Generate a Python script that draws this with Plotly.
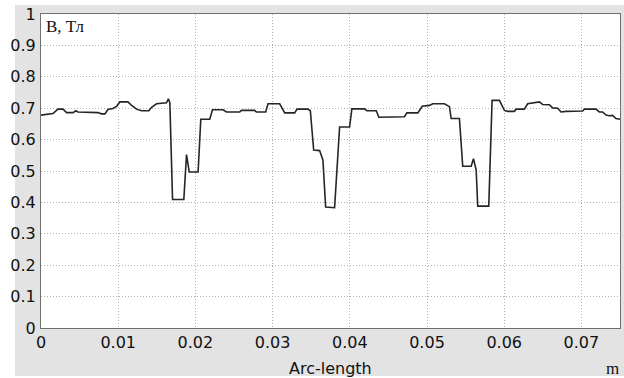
import plotly.graph_objects as go

# Arc-length (m) and flux density B (T)
arc_length = [0.0, 0.00074, 0.00155, 0.0022, 0.00285, 0.00332, 0.00414, 0.00453, 0.00479,
              0.00737, 0.00785, 0.00828, 0.00867, 0.00931, 0.00979, 0.01022, 0.01125, 0.01173,
              0.01238, 0.01303, 0.01397, 0.01432, 0.01497, 0.01626, 0.0165, 0.01669, 0.01704,
              0.0185, 0.01885, 0.0192, 0.02035, 0.0207, 0.02186, 0.02221, 0.02358, 0.02402,
              0.02574, 0.02596, 0.02768, 0.0279, 0.02911, 0.0294, 0.03092, 0.03157, 0.03286,
              0.03316, 0.03458, 0.03489, 0.03532, 0.03609, 0.03652, 0.03687, 0.03803, 0.03868,
              0.03997, 0.04027, 0.04191, 0.04221, 0.04343, 0.04376, 0.04709, 0.04739, 0.04881,
              0.04938, 0.05032, 0.05075, 0.05226, 0.05291, 0.05313, 0.0542, 0.05463, 0.05572,
              0.05602, 0.05637, 0.05657, 0.058, 0.05843, 0.05938, 0.06003, 0.06045, 0.06132,
              0.06154, 0.06261, 0.06304, 0.06455, 0.06498, 0.06585, 0.06628, 0.06693, 0.06736,
              0.06801, 0.07016, 0.07038, 0.07189, 0.07232, 0.07275, 0.07318, 0.07361, 0.07404,
              0.07448, 0.075]
b_values = [0.678, 0.681, 0.683, 0.697, 0.697, 0.686, 0.686, 0.692, 0.688,
            0.686, 0.682, 0.682, 0.696, 0.699, 0.706, 0.720, 0.720, 0.709,
            0.697, 0.692, 0.692, 0.703, 0.714, 0.717, 0.730, 0.717, 0.409,
            0.409, 0.552, 0.497, 0.497, 0.665, 0.665, 0.695, 0.695, 0.688,
            0.688, 0.693, 0.693, 0.688, 0.688, 0.714, 0.714, 0.685, 0.685,
            0.697, 0.697, 0.692, 0.567, 0.565, 0.535, 0.385, 0.383, 0.640,
            0.640, 0.698, 0.698, 0.692, 0.692, 0.671, 0.673, 0.685, 0.685,
            0.706, 0.709, 0.714, 0.714, 0.705, 0.667, 0.667, 0.515, 0.515,
            0.539, 0.503, 0.388, 0.388, 0.725, 0.725, 0.693, 0.690, 0.690,
            0.697, 0.697, 0.714, 0.720, 0.712, 0.711, 0.701, 0.700, 0.688,
            0.690, 0.691, 0.697, 0.697, 0.688, 0.688, 0.678, 0.676, 0.677,
            0.667, 0.665]

x_ticks = [0, 0.01, 0.02, 0.03, 0.04, 0.05, 0.06, 0.07]
x_tick_labels = ["0", "0.01", "0.02", "0.03", "0.04", "0.05", "0.06", "0.07"]
y_ticks = [0, 0.1, 0.2, 0.3, 0.4, 0.5, 0.6, 0.7, 0.8, 0.9, 1]
y_tick_labels = ["0", "0.1", "0.2", "0.3", "0.4", "0.5", "0.6", "0.7", "0.8", "0.9", "1"]

fig = go.Figure()
fig.add_trace(go.Scatter(x=arc_length, y=b_values, mode="lines",
                         line=dict(color="#262626", width=1.6), showlegend=False))

tick_font = dict(family="DejaVu Sans", size=16, color="#111")
fig.update_layout(
    width=624, height=378,
    margin=dict(l=41, r=4, t=14, b=50),
    paper_bgcolor="white", plot_bgcolor="white",
    shapes=[
        dict(type="rect", xref="paper", yref="paper", x0=-0.0449, x1=1.01, y0=-0.153, y1=1.0287,
             fillcolor="#e3e3e3", line=dict(width=0), layer="below"),
        dict(type="rect", xref="paper", yref="paper", x0=0, x1=1, y0=0, y1=1,
             fillcolor="white", line=dict(width=0), layer="below"),
    ],
    xaxis=dict(range=[0, 0.075], tickvals=x_ticks, ticktext=x_tick_labels,
               showgrid=True, gridcolor="#b4b4b4", griddash="1px,2px", gridwidth=1,
               showline=True, linecolor="#707070", linewidth=1, mirror=True,
               ticks="", tickfont=tick_font, zeroline=False),
    yaxis=dict(range=[0, 1], tickvals=y_ticks, ticktext=y_tick_labels,
               showgrid=True, gridcolor="#b4b4b4", griddash="1px,2px", gridwidth=1,
               showline=True, linecolor="#707070", linewidth=1, mirror=True,
               ticks="", tickfont=tick_font, zeroline=False, ticklabelstandoff=1),
    annotations=[
        dict(text="B, Тл", xref="paper", yref="paper", x=0, y=1, xanchor="left", yanchor="top",
             xshift=3, yshift=-1, showarrow=False,
             font=dict(family="Liberation Serif", size=17, color="#111")),
        dict(text="Arc-length", xref="paper", yref="paper", x=(330 - 41) / 579, y=0,
             xanchor="center", yanchor="top", yshift=-29, showarrow=False,
             font=dict(family="DejaVu Sans", size=16, color="#111")),
        dict(text="m", xref="paper", yref="paper", x=(612 - 41) / 579, y=0,
             xanchor="center", yanchor="top", yshift=-29, showarrow=False,
             font=dict(family="Liberation Serif", size=17, color="#111")),
    ],
)

fig.write_html("out.html")
